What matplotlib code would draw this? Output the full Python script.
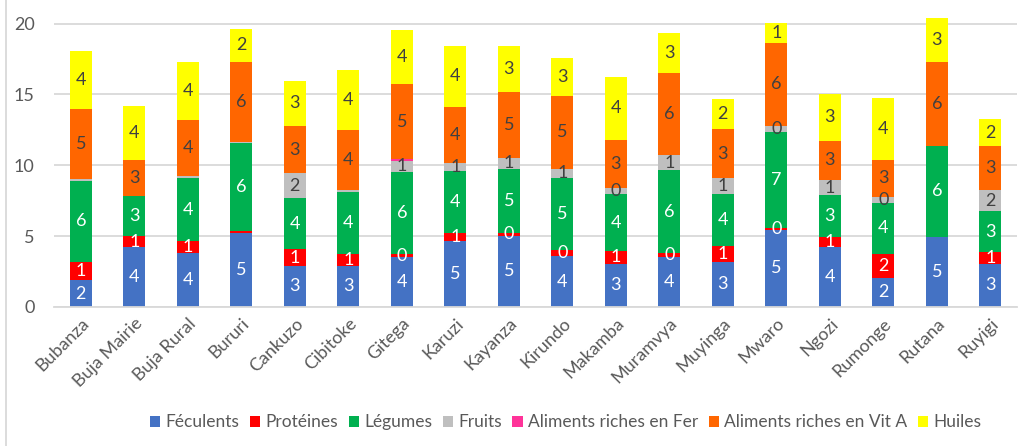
import matplotlib.pyplot as plt
import numpy as np
from matplotlib.lines import Line2D

plt.rcParams['font.family'] = ['Lato', 'DejaVu Sans']

provinces = ["Bubanza", "Buja Mairie", "Buja Rural", "Bururi", "Cankuzo", "Cibitoke",
             "Gitega", "Karuzi", "Kayanza", "Kirundo", "Makamba", "Muramvya",
             "Muyinga", "Mwaro", "Ngozi", "Rumonge", "Rutana", "Ruyigi"]

feculents = [1.9, 4.2, 3.8, 5.2, 2.9, 2.9, 3.52, 4.66, 5.03, 3.58, 3.06, 3.55, 3.2, 5.45, 4.26, 2.07, 4.94, 3.06]
proteines = [1.3, 0.8, 0.85, 0.14, 1.17, 0.85, 0.19, 0.56, 0.19, 0.44, 0.89, 0.23, 1.13, 0.1, 0.68, 1.67, 0, 0.82]
legumes = [5.7, 2.8, 4.45, 6.24, 3.62, 4.38, 5.81, 4.4, 4.54, 5.08, 4.0, 5.88, 3.62, 6.8, 2.94, 3.62, 6.44, 2.87]
fruits = [0.14, 0, 0.12, 0.06, 1.75, 0.14, 0.8, 0.52, 0.76, 0.66, 0.46, 1.06, 1.13, 0.45, 1.08, 0.42, 0, 1.51]
fer = [0, 0, 0, 0, 0, 0, 0.09, 0, 0, 0, 0, 0, 0, 0, 0, 0, 0, 0]
vit_a = [4.9, 2.55, 3.95, 5.65, 3.34, 4.23, 5.3, 4.0, 4.63, 5.15, 3.41, 5.76, 3.48, 5.83, 2.78, 2.59, 5.89, 3.1]
huiles = [4.15, 3.86, 4.09, 2.35, 3.2, 4.24, 3.81, 4.31, 3.27, 2.64, 4.38, 2.88, 2.12, 1.43, 3.31, 4.4, 3.1, 1.89]

series = [
    ("Féculents", feculents, "#4472C4", "white"),
    ("Protéines", proteines, "#FF0000", "white"),
    ("Légumes", legumes, "#00B050", "white"),
    ("Fruits", fruits, "#BFBFBF", "#404040"),
    ("Aliments riches en Fer", fer, "#FF3399", None),
    ("Aliments riches en Vit A", vit_a, "#FF6600", "#404040"),
    ("Huiles", huiles, "#FFFF00", "#404040"),
]

# labels Excel did not show
no_label = {("Bubanza", "Fruits"), ("Buja Rural", "Fruits"), ("Bururi", "Protéines"),
            ("Bururi", "Fruits"), ("Cibitoke", "Fruits")}

fig = plt.figure(figsize=(10.21, 4.46), dpi=100)
ax = fig.add_axes([0.0529, 0.3117, 0.9432, 0.6544])

x = np.arange(len(provinces))
bottom = np.zeros(len(provinces))
for name, vals, color, tcolor in series:
    vals = np.array(vals, dtype=float)
    ax.bar(x, vals, 0.41, bottom=bottom, color=color, label=name, zorder=2)
    if tcolor is not None:
        for i, v in enumerate(vals):
            if v <= 0 or (provinces[i], name) in no_label:
                continue
            ax.text(x[i], bottom[i] + v / 2, f"{round(v):d}", ha="center", va="center",
                    color=tcolor, fontsize=13, zorder=3)
    bottom += vals

ax.set_xlim(-0.5, len(provinces) - 0.5)
ax.set_ylim(0, 20.6)
ax.set_yticks([0, 5, 10, 15, 20])
ax.yaxis.grid(True, color="#D9D9D9", lw=1.3, zorder=0)
ax.set_axisbelow(True)
for s in ["top", "right", "left"]:
    ax.spines[s].set_visible(False)
ax.spines["bottom"].set_color("#D9D9D9")
ax.spines["bottom"].set_linewidth(1.3)
ax.tick_params(axis="both", length=0, labelsize=13, colors="#595959")
ax.tick_params(axis="y", pad=14)
ax.tick_params(axis="x", pad=6)
ax.set_xticks(x)
ax.set_xticklabels(provinces, rotation=45, ha="right", va="top", rotation_mode="anchor")
for lab in ax.get_xticklabels():
    lab.set_color("#595959")

fig.legend(loc="center", bbox_to_anchor=(0.554, 0.053), ncol=7, frameon=False,
           fontsize=12.5, handlelength=0.6, handleheight=0.6, handletextpad=0.3,
           columnspacing=0.6, labelcolor="#595959")

fig.add_artist(Line2D([0.006, 0.006], [0, 1], color="#D9D9D9", lw=1.3))

fig.savefig("out.png", dpi=100)
plt.close(fig)
